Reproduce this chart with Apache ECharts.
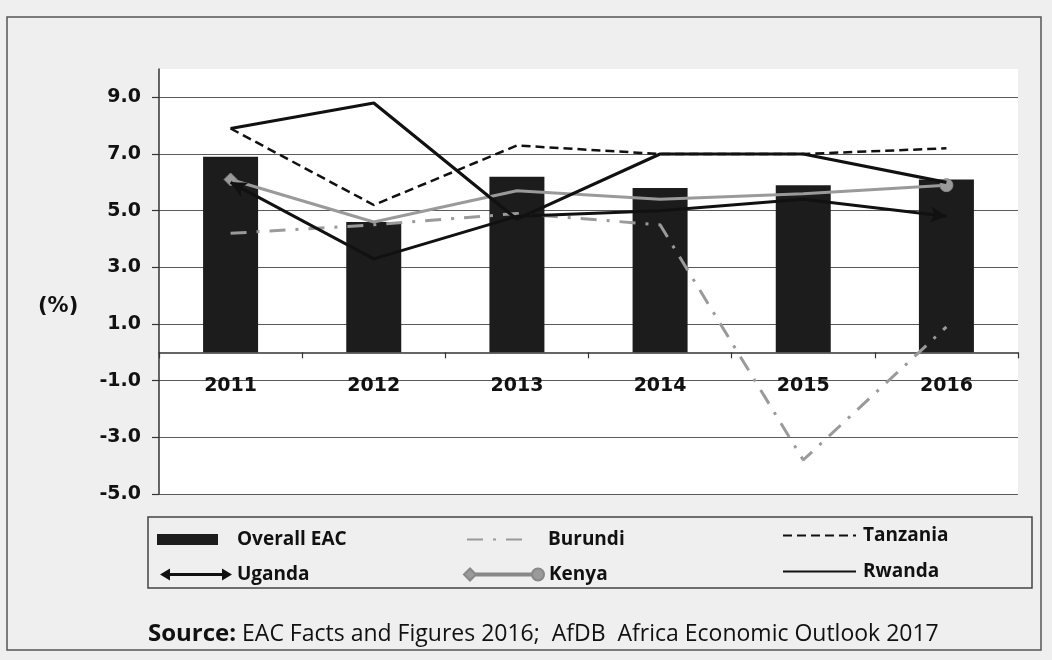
<!DOCTYPE html>
<html>
<head>
<meta charset="utf-8">
<script src="https://cdn.jsdelivr.net/npm/echarts@6/dist/echarts.min.js"></script>
<style>
html,body{margin:0;padding:0;background:#efefef;}
#chart{width:1052px;height:660px;}
</style>
</head>
<body>
<div id="chart"></div>
<script>
// ---- data ----
const years = ['2011', '2012', '2013', '2014', '2015', '2016'];
const overallEAC = [6.9, 4.6, 6.2, 5.8, 5.9, 6.1];
const burundi = [4.2, 4.5, 4.9, 4.5, -3.8, 0.9];
const tanzania = [7.9, 5.2, 7.3, 7.0, 7.0, 7.2];
const uganda = [6.0, 3.3, 4.8, 5.0, 5.4, 4.8];
const kenya = [6.1, 4.6, 5.7, 5.4, 5.6, 5.9];
const rwanda = [7.9, 8.8, 4.7, 7.0, 7.0, 6.0];
const yMin = -5, yMax = 10, yStep = 2;
const yAxisTitle = '(%)';
const sourceLabel = 'Source:';
const sourceText = ' EAC Facts and Figures 2016;  AfDB  Africa Economic Outlook 2017';

const gridTop = 69, gridBottom = 166, chartH = 660;
const gridH = chartH - gridTop - gridBottom;
// distance from the grid bottom up to the zero line (labels sit under the zero line)
const zeroOffset = -((0 - yMin) / (yMax - yMin)) * gridH;

const chart = echarts.init(document.getElementById('chart'), null, {renderer: 'canvas'});

const legendFont = {fontFamily: 'Open Sans', fontWeight: 'bold', fontSize: 19, color: '#111'};
function oneLegend(name, left, top, w, h, gap, icon, hideSymbol) {
  const d = {name: name};
  if (icon) d.icon = icon;
  const l = {
    data: [d], left: left, top: top, padding: 0, itemWidth: w, itemHeight: h,
    selectedMode: false,
    textStyle: Object.assign({padding: [0, 0, 0, gap]}, legendFont)
  };
  if (hideSymbol) l.itemStyle = {opacity: 0};
  return l;
}

const ugandaIcon = 'path://M0,6 L10,0 L10,4.6 L62,4.6 L62,0 L72,6 L62,12 L62,7.4 L10,7.4 L10,12 Z';
const kenyaIcon = 'path://M0,6 L6,0 L12,6 L6,12 Z M12,5 L68,5 L68,7 L12,7 Z M68,6 A6,6 0 1 1 80,6 A6,6 0 1 1 68,6 Z';

function endSymbols(values, startSym, endSym, size, rotStart, rotEnd) {
  return values.map(function (v, i) {
    const item = {value: v};
    if (i === 0) { item.symbol = startSym; item.symbolSize = size; if (rotStart != null) item.symbolRotate = rotStart; }
    if (i === values.length - 1) { item.symbol = endSym; item.symbolSize = size; if (rotEnd != null) item.symbolRotate = rotEnd; }
    return item;
  });
}

const axisFont = {fontFamily: 'DejaVu Sans', fontWeight: 'bold', fontSize: 19, color: '#111'};

const option = {
  backgroundColor: '#efefef',
  animation: false,
  grid: {left: 159, right: 34, top: gridTop, bottom: gridBottom, show: true, backgroundColor: '#ffffff', borderWidth: 0},
  xAxis: [{
    type: 'category', data: years, boundaryGap: true,
    axisLine: {onZero: true, lineStyle: {color: '#333', width: 1.5}},
    axisTick: {show: true, length: 6, lineStyle: {color: '#333', width: 1.2}},
    axisLabel: {show: false}
  }, {
    type: 'category', data: years, boundaryGap: true, position: 'bottom', offset: zeroOffset,
    axisLine: {show: false, onZero: false},
    axisTick: {show: false},
    axisLabel: Object.assign({margin: 24}, axisFont)
  }],
  yAxis: {
    type: 'value', min: yMin, max: yMax, interval: yStep,
    axisLine: {show: true, lineStyle: {color: '#333', width: 1.5}},
    axisTick: {show: true, length: 7, lineStyle: {color: '#333', width: 1.2}},
    axisLabel: Object.assign({margin: 18, showMaxLabel: false,
      formatter: function (v) { return v.toFixed(1); }}, axisFont),
    splitLine: {show: true, showMaxLine: false, lineStyle: {color: '#5a5a5a', width: 1.2}}
  },
  legend: [
    oneLegend('Overall EAC', 157, 530, 61, 11, 14, 'rect'),
    oneLegend('Uganda', 160, 565, 72, 12, 0, ugandaIcon),
    oneLegend('Burundi', 466, 530, 62, 10, 14, null, true),
    oneLegend('Kenya', 463, 565, 80, 12, 0, kenyaIcon),
    oneLegend('Tanzania', 782, 526, 73, 10, 2, null, true),
    oneLegend('Rwanda', 782, 562, 73, 10, 2, null, true)
  ],
  series: [
    {name: 'Overall EAC', type: 'bar', data: overallEAC, barWidth: 55, itemStyle: {color: '#1c1c1c'}, z: 1},
    {name: 'Burundi', type: 'line', data: burundi, symbol: 'none', z: 3,
      itemStyle: {color: '#9a9a9a'},
      lineStyle: {color: '#9a9a9a', width: 3, type: [16, 10, 3, 10]}},
    {name: 'Tanzania', type: 'line', data: tanzania, symbol: 'none', z: 3,
      itemStyle: {color: '#111'},
      lineStyle: {color: '#111', width: 2.5, type: [9, 5]}},
    {name: 'Kenya', type: 'line', symbol: 'none', z: 4,
      data: endSymbols(kenya, 'diamond', 'circle', 13),
      itemStyle: {color: '#9a9a9a', borderColor: '#888', borderWidth: 1},
      lineStyle: {color: '#9a9a9a', width: 3}},
    {name: 'Rwanda', type: 'line', data: rwanda, symbol: 'none', z: 5,
      itemStyle: {color: '#111'},
      lineStyle: {color: '#111', width: 3.2}},
    {name: 'Uganda', type: 'line', symbol: 'none', z: 5,
      data: endSymbols(uganda, 'arrow', 'arrow', [12, 16]),
      itemStyle: {color: '#111'},
      lineStyle: {color: '#111', width: 3}}
  ],
  graphic: [
    {type: 'rect', shape: {x: 7, y: 17, width: 1034, height: 633}, style: {fill: 'none', stroke: '#555', lineWidth: 1.5}, z: 0, silent: true},
    {type: 'rect', shape: {x: 148, y: 517, width: 884, height: 71}, style: {fill: 'none', stroke: '#444', lineWidth: 1.5}, z: 0, silent: true},
    {type: 'text', x: 38, y: 307, style: {text: yAxisTitle, fontFamily: 'DejaVu Sans', fontWeight: 'bold', fontSize: 21, fill: '#111', verticalAlign: 'middle'}},
    {type: 'text', x: 148, y: 634, style: {
      text: '{b|' + sourceLabel + '}' + sourceText,
      fontFamily: 'Open Sans', fontSize: 23, fill: '#111', verticalAlign: 'middle',
      rich: {b: {fontFamily: 'Open Sans', fontWeight: 'bold', fontSize: 24, fill: '#111'}}
    }}
  ]
};

chart.setOption(option);

// orient the Uganda arrow heads along the line direction (derived from the data through the axes)
function angleFor(fromIdx, toIdx) {
  const a = chart.convertToPixel({xAxisIndex: 0, yAxisIndex: 0}, [fromIdx, uganda[fromIdx]]);
  const b = chart.convertToPixel({xAxisIndex: 0, yAxisIndex: 0}, [toIdx, uganda[toIdx]]);
  const dx = b[0] - a[0], dy = b[1] - a[1];
  return Math.atan2(-dx, -dy) * 180 / Math.PI;
}
const n = uganda.length;
const rotStart = angleFor(1, 0);
const rotEnd = angleFor(n - 2, n - 1);
chart.setOption({series: [{}, {}, {}, {}, {},
  {name: 'Uganda', data: endSymbols(uganda, 'arrow', 'arrow', [12, 16], rotStart, rotEnd)}]});
</script>
</body>
</html>
